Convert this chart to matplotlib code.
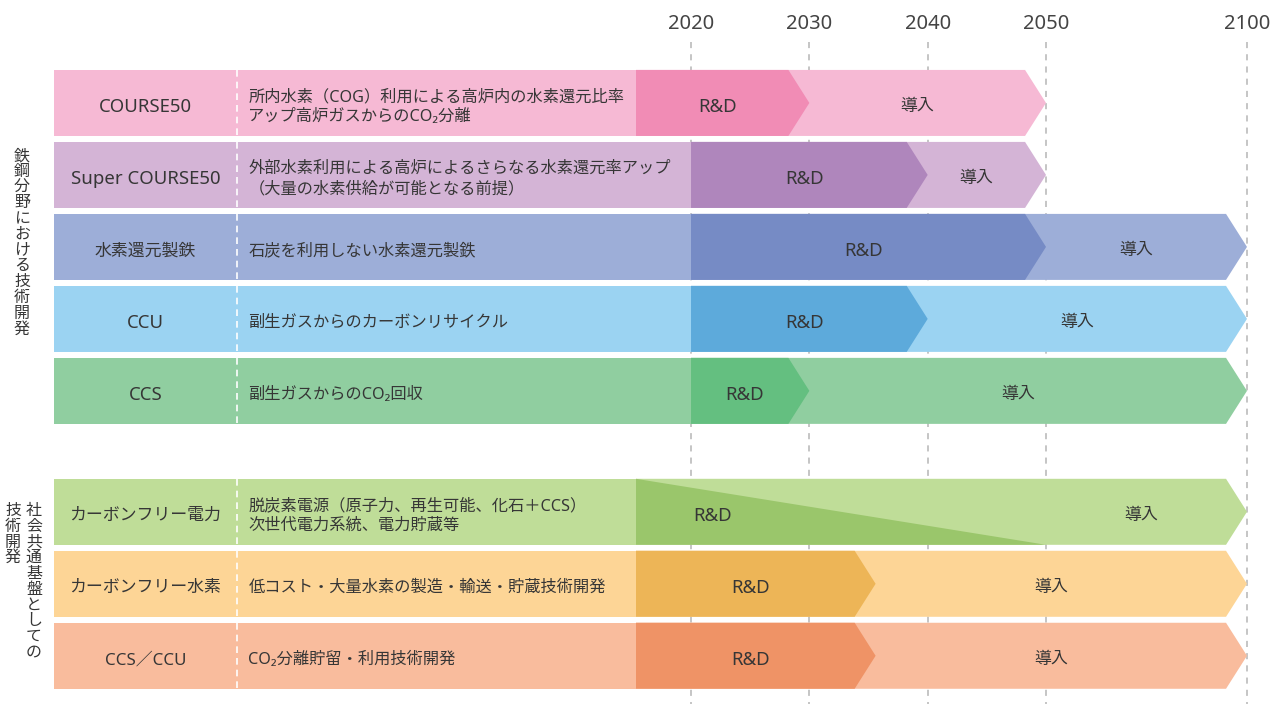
import numpy as np
import matplotlib
matplotlib.use("Agg")
import matplotlib.pyplot as plt
from matplotlib.patches import Polygon

plt.rcParams['font.family'] = ['Noto Sans', 'Noto Sans CJK JP', 'DejaVu Sans']

# ---- data ----
labels = ["COURSE50", "Super COURSE50", "水素還元製鉄", "CCU", "CCS",
          "カーボンフリー電力", "カーボンフリー水素", "CCS／CCU"]
descs = [
    "所内水素（COG）利用による高炉内の水素還元比率\nアップ高炉ガスからのCO₂分離",
    "外部水素利用による高炉によるさらなる水素還元率アップ\n（大量の水素供給が可能となる前提）",
    "石炭を利用しない水素還元製鉄",
    "副生ガスからのカーボンリサイクル",
    "副生ガスからのCO₂回収",
    "脱炭素電源（原子力、再生可能、化石＋CCS）\n次世代電力系統、電力貯蔵等",
    "低コスト・大量水素の製造・輸送・貯蔵技術開発",
    "CO₂分離貯留・利用技術開発",
]
rd_start = [2015.35, 2020, 2020, 2020, 2020, 2015.35, 2015.35, 2015.35]
rd_end = [2030, 2040, 2050, 2040, 2030, 2050, 2035.6, 2035.6]
intro_end = [2050, 2050, 2100, 2100, 2100, 2100, 2100, 2100]
fade = [False, False, False, False, False, True, False, False]
light = ["#F6B9D4", "#D4B4D6", "#9DAED8", "#9BD3F2", "#90CEA0",
         "#BFDD98", "#FDD596", "#F9BC9D"]
dark = ["#F18CB5", "#AF86BC", "#768BC5", "#5DAADB", "#64BF80",
        "#9AC66B", "#EDB557", "#EF9366"]
years = [2020, 2030, 2040, 2050, 2100]

# ---- scale: linear to 2050, compressed after ----
K = 0.3397


def fwd(y):
    y = np.asarray(y, dtype=float)
    return np.where(y <= 2050, y, 2050 + (y - 2050) * K)


def inv(p):
    p = np.asarray(p, dtype=float)
    return np.where(p <= 2050, p, 2050 + (p - 2050) / K)


TIP = 1.77       # arrow tip depth in scaled units
LEFT = 1966.17   # left edge of label boxes
SPLIT = 1981.63  # dashed separator
H = 0.917
DY = 0.06        # optical text offset
TEXT = "#363636"

fig = plt.figure(figsize=(12.8, 7.04), dpi=100)
ax = fig.add_axes([0, 0, 1, 1])
ax.set_xscale('function', functions=(fwd, inv))
ax.set_xlim(1961.6, float(inv(2020 + 589 / 11.833)))
ax.set_ylim(8.35, -1.43)
ax.axis('off')

centers = [i + (0.68 if i >= 5 else 0) for i in range(len(labels))]


def chevron(x0, x1, yc, color, z):
    xs = float(inv(fwd(x1) - TIP))
    pts = [(x0, yc - H / 2), (xs, yc - H / 2), (x1, yc),
           (xs, yc + H / 2), (x0, yc + H / 2)]
    ax.add_patch(Polygon(pts, closed=True, facecolor=color,
                         edgecolor='none', zorder=z))


def mid(a, b):
    return float(inv((fwd(a) + fwd(b)) / 2))


def label(x, y, s):
    fs = 13.4 if s.isascii() else 12.2
    ax.text(x, y + DY, s, ha='center', va='center', fontsize=fs,
            color=TEXT, zorder=5)


# grid
ax.vlines(years, -0.85, 8.35, colors="#B5B5B5", linestyles=(0, (4, 4)),
          linewidth=1.1, zorder=0)
for yr in years:
    ax.text(yr, -1.1, str(yr), ha='center', va='center', fontsize=14.5,
            color="#444444")

for i, yc in enumerate(centers):
    # label + description box
    ax.add_patch(Polygon([(LEFT, yc - H / 2), (rd_start[i], yc - H / 2),
                          (rd_start[i], yc + H / 2), (LEFT, yc + H / 2)],
                         facecolor=light[i], edgecolor='none', zorder=1))
    ax.plot([SPLIT, SPLIT], [yc - H / 2, yc + H / 2], color='white',
            linestyle=(0, (4, 3)), linewidth=1.2, zorder=2)
    label(mid(LEFT, SPLIT), yc, labels[i])
    ax.text(1982.6, yc + DY, descs[i], ha='left', va='center', fontsize=11.7,
            color=TEXT, linespacing=1.35, zorder=5)

    # intro arrow
    chevron(rd_start[i], intro_end[i], yc, light[i], 2)
    tip_mid_rd = float(inv(fwd(rd_end[i]) - TIP / 2))
    tip_mid_in = float(inv(fwd(intro_end[i]) - TIP / 2))
    if fade[i]:
        ax.add_patch(Polygon([(rd_start[i], yc - H / 2), (rd_end[i], yc + H / 2),
                              (rd_start[i], yc + H / 2)], facecolor=dark[i],
                             edgecolor='none', zorder=3))
        label(2021.86, yc, "R&D")
        label(mid(2050, tip_mid_in), yc, "導入")
    else:
        chevron(rd_start[i], rd_end[i], yc, dark[i], 3)
        label(mid(rd_start[i], tip_mid_rd), yc, "R&D")
        label(mid(tip_mid_rd, tip_mid_in), yc, "導入")

# vertical group labels
vkw = dict(ha='center', va='top', fontsize=11.5, color=TEXT, linespacing=0.98)
fig.text(22 / 1280, 1 - 148 / 704, "\n".join("鉄鋼分野における技術開発"), **vkw)
fig.text(34 / 1280, 1 - 503 / 704, "\n".join("社会共通基盤としての"), **vkw)
fig.text(13 / 1280, 1 - 503 / 704, "\n".join("技術開発"), **vkw)

fig.savefig("out.png", dpi=100, facecolor='white')
